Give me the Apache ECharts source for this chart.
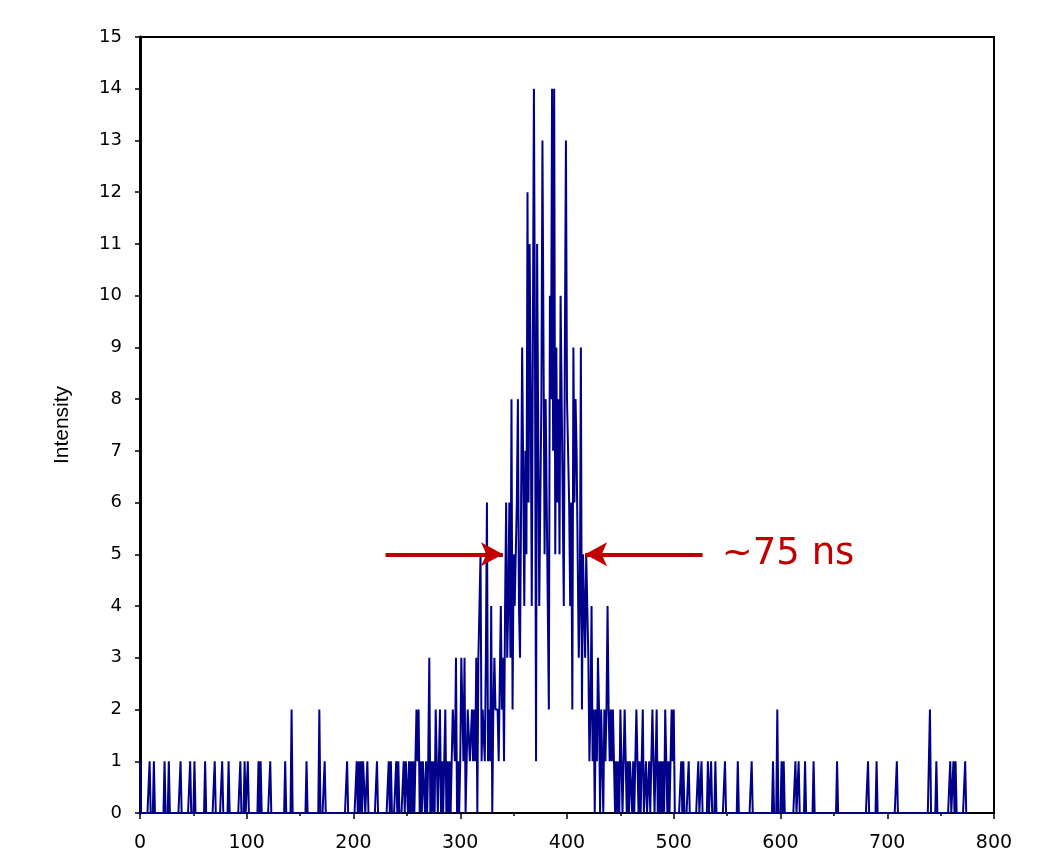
<!DOCTYPE html>
<html>
<head>
<meta charset="utf-8">
<script src="https://cdn.jsdelivr.net/npm/echarts@6/dist/echarts.min.js"></script>
<style>
  html, body { margin: 0; padding: 0; background: #fff; }
  #chart { width: 1037px; height: 855px; }
</style>
</head>
<body>
<div id="chart"></div>
<script>
// counts per ns bin
// sparse single hits in the left tail (ns, count)
const leftNs  = [0, 9, 13, 23, 27, 38, 47, 51, 61, 70, 77, 83, 94, 98, 101, 111, 113, 122, 136, 142, 156, 168, 173, 194];
const leftVal = [1, 1, 1, 1, 1, 1, 1, 1, 1, 1, 1, 1, 1, 1, 1, 1, 1, 1, 1, 2, 1, 2, 1, 1];

// dense part, one value per ns starting at coreStart
const coreStart = 200;
const coreVal = [
  0,0,0,1,0,1,0,1,0,1,  1,0,0,1,0,0,0,0,0,0,   // 200
  0,0,1,0,0,0,0,0,0,0,  0,0,0,1,0,1,0,0,0,0,   // 220
  1,0,1,0,0,0,0,1,0,1,  1,0,1,0,1,0,1,0,1,2,   // 240
  1,2,0,1,0,1,1,0,1,0,  1,3,0,1,0,1,0,2,1,0,   // 260
  1,2,0,1,0,1,2,0,1,0,  1,0,1,2,2,1,3,0,1,0,   // 280
  1,3,3,1,3,0,0,2,2,1,  1,2,1,2,1,3,0,3,4,5,   // 300
  1,2,2,1,3,6,1,2,1,4,  0,2,3,2,2,2,1,1,4,2,   // 320
  3,1,4,6,3,4,6,3,8,2,  5,4,4,6,8,4,3,6,9,9,   // 340
  4,7,5,12,6,11,8,4,9,14, 9,1,11,11,4,4,8,13,9,5, // 360
  8,6,4,2,10,8,14,7,14,5, 9,6,8,5,10,8,6,4,9,13,  // 380
  8,7,6,4,6,2,9,6,8,7,  5,3,4,9,2,5,4,3,5,4,   // 400
  3,1,2,4,1,2,0,2,1,3,  2,0,2,1,0,2,1,2,4,2,   // 420
  1,2,1,2,1,0,1,0,1,0,  2,1,0,1,2,1,0,1,0,1,   // 440
  1,0,1,0,1,2,1,0,1,0,  1,2,0,0,1,0,0,1,0,1,   // 460
  2,1,0,1,2,0,1,0,1,0,  1,0,2,1,0,1,0,0,2,1,   // 480
  2,0,0,0,0,0,0,1,0,1,  0                      // 500
];

// sparse hits in the right tail
const rightNs  = [514, 523, 526, 532, 535, 539, 548, 560, 573, 593, 597, 601, 603, 614, 617, 623, 631, 653, 682, 690, 709, 740, 746, 759, 762, 764, 773];
const rightVal = [1, 1, 1, 1, 1, 1, 1, 1, 1, 1, 2, 1, 1, 1, 1, 1, 1, 1, 1, 1, 1, 2, 1, 1, 1, 1, 1];

const lastNs = 775;
const yTicks = [0, 1, 2, 3, 4, 5, 6, 7, 8, 9, 10, 11, 12, 13, 14, 15];

// FWHM marker: arrows at half height, tips on the peak edges
const fwhmLevel = 5;
const fwhmLeft = [230, 340];
const fwhmRight = [527, 417];
const fwhmText = '~75 ns';
const fwhmTextAt = 545;

// build full series, empty bins are 0
var counts = []
for (var i = 0; i <= lastNs; i++) counts.push(0)
leftNs.forEach(function (n, k) { counts[n] = leftVal[k] })
coreVal.forEach(function (v, k) { counts[coreStart + k] = v })
rightNs.forEach(function (n, k) { counts[n] = rightVal[k] })
var seriesData = counts.map(function (v, n) { return [n, v] })

var red = '#c00000'
var chart = echarts.init(document.getElementById('chart'))
chart.setOption({
  animation: false,
  grid: {
    left: 140, right: 43, top: 37, bottom: 42,
    show: true, borderColor: '#000', borderWidth: 2, backgroundColor: 'transparent'
  },
  xAxis: {
    type: 'value', min: 0, max: 800, interval: 100,
    axisLine: { show: true, onZero: false, lineStyle: { color: '#000', width: 2 } },
    axisTick: { show: true, length: 6, lineStyle: { color: '#000', width: 1.5 } },
    minorTick: { show: true, splitNumber: 2, length: 3, lineStyle: { color: '#000', width: 1.5 } },
    axisLabel: { color: '#000', fontFamily: 'DejaVu Sans', fontSize: 19, margin: 21 },
    splitLine: { show: false }
  },
  yAxis: {
    type: 'value', min: 0, max: 15, interval: 1,
    name: 'Intensity', nameLocation: 'middle', nameGap: 67,
    nameTextStyle: { color: '#000', fontFamily: 'Liberation Sans Narrow, Liberation Sans', fontSize: 21 },
    axisLine: { show: true, lineStyle: { color: '#000', width: 3 } },
    axisTick: { show: true, length: 5, lineStyle: { color: '#000', width: 1.5 } },
    axisLabel: {
      color: '#000', fontFamily: 'DejaVu Sans', fontSize: 18, margin: 18,
      formatter: function (v) { return yTicks.indexOf(v) >= 0 ? String(v) : '' }
    },
    splitLine: { show: false }
  },
  series: [{
    type: 'line',
    data: seriesData,
    showSymbol: false,
    lineStyle: { color: '#00008b', width: 2 },
    markLine: {
      silent: true,
      symbol: ['none', 'arrow'],
      symbolSize: [18, 22],
      lineStyle: { color: red, width: 4, type: 'solid' },
      label: { show: false },
      data: [
        [{ coord: [fwhmLeft[0], fwhmLevel] }, { coord: [fwhmLeft[1], fwhmLevel] }],
        [{ coord: [fwhmRight[0], fwhmLevel] }, { coord: [fwhmRight[1], fwhmLevel] }]
      ]
    },
    markPoint: {
      silent: true,
      symbol: 'circle',
      symbolSize: 0,
      label: {
        show: true, position: 'right', distance: 0,
        formatter: fwhmText, color: red, fontFamily: 'DejaVu Sans', fontSize: 37
      },
      data: [{ coord: [fwhmTextAt, fwhmLevel] }]
    }
  }]
})
</script>
</body>
</html>
